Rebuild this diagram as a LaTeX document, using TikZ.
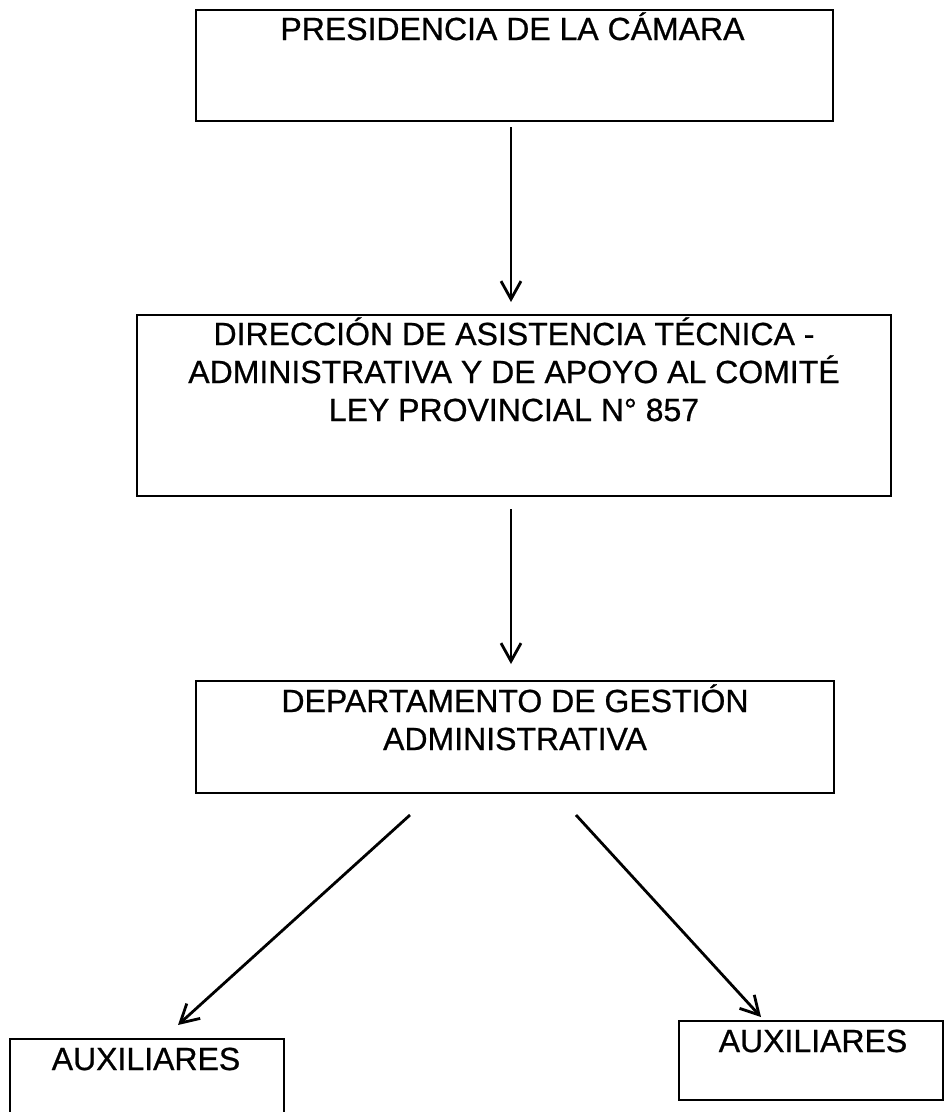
\documentclass[tikz,border=0pt]{standalone}
\usepackage{fontspec}
\setmainfont{Liberation Sans}
\newfontfamily\scanfont[FakeBold=0.7]{Liberation Sans}
\usetikzlibrary{arrows.meta,calc}
\begin{document}
\begin{tikzpicture}[x=1pt,y=-1pt,
  box/.style={draw=black, line width=2pt, rectangle, inner sep=0pt},
  lbl/.style={font=\scanfont\fontsize{32}{38}\selectfont, anchor=base, inner sep=0pt},
  arr/.style={line width=2.8pt, -{Straight Barb[length=18pt,width=20pt,line width=2.8pt]}}]
\useasboundingbox (0,0) rectangle (944,1112);
\clip (0,0) rectangle (944,1112);
% boxes
\node[box, minimum width=637pt, minimum height=111pt] (pres) at (514.5,65.5) {};
\node[box, minimum width=754pt, minimum height=181pt] (dir) at (514,405.5) {};
\node[box, minimum width=638pt, minimum height=112pt] (dep) at (515,737) {};
\node[box, minimum width=274pt, minimum height=101pt] (auxl) at (147,1089.5) {};
\node[box, minimum width=264pt, minimum height=79pt] (auxr) at (811,1060.5) {};
% texts
\node[lbl] (presT) at (512.5,40) {PRESIDENCIA DE LA CÁMARA};
\node[lbl] (dirT1) at (514,345) {DIRECCIÓN DE ASISTENCIA TÉCNICA -};
\node[lbl] (dirT2) at (514,383) {ADMINISTRATIVA Y DE APOYO AL COMITÉ};
\node[lbl] (dirT3) at (514,421) {LEY PROVINCIAL N° 857};
\node[lbl] (depT1) at (515,712) {DEPARTAMENTO DE GESTIÓN};
\node[lbl] (depT2) at (515,750) {ADMINISTRATIVA};
\node[lbl] (auxlT) at (146,1070) {AUXILIARES};
\node[lbl] (auxrT) at (813,1052) {AUXILIARES};
% connectors
\draw[arr] ($(pres.south)+(-3.5,5)$) -- ($(dir.north)+(-3,-12)$);
\draw[arr] ($(dir.south)+(-3,12)$) -- ($(dep.north)+(-4,-16)$);
\draw[arr] ($(dep.south)+(-105,21)$) -- ($(auxl.north)+(31,-13)$);
\draw[arr] ($(dep.south)+(61,21)$) -- ($(auxr.north)+(-50,-3)$);
\end{tikzpicture}
\end{document}
